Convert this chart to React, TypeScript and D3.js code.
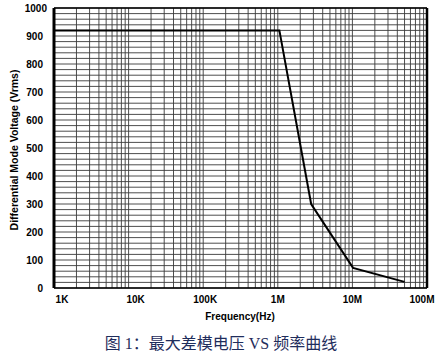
import React from "react";
import * as d3 from "d3";

const freqs = [1e3, 1.05e6, 2.8e6, 1.02e7, 5e7];
const volts = [920, 920, 300, 72, 22];
const xTickValues = [1e3, 1e4, 1e5, 1e6, 1e7, 1e8];
const xTickLabels = ["1K", "10K", "100K", "1M", "10M", "100M"];
const xTickShift = [8, 7, 2, 0, 0, -5];
const yTickValues = [0, 100, 200, 300, 400, 500, 600, 700, 800, 900, 1000];
const xTitle = "Frequency(Hz)";
const yTitle = "Differential Mode Voltage (Vrms)";
const caption = "图 1：最大差模电压 VS 频率曲线";

const W = 447;
const H = 357;
const left = 54;
const right = 427;
const top = 8;
const bottom = 288;

export default function App() {
  const x = d3.scaleLog().domain([1e3, 1e8]).range([left, right]);
  const y = d3.scaleLinear().domain([0, 1000]).range([bottom, top]);

  const vGrid: number[] = [];
  for (let e = 3; e < 8; e++) {
    for (let k = 1; k <= 9; k++) vGrid.push(k * Math.pow(10, e));
  }
  vGrid.push(1e8);
  const hGrid = d3.range(0, 1001, 20);

  const line = d3
    .line<number>()
    .x((_, i) => x(freqs[i]))
    .y((d) => y(d));

  const sans = "'Liberation Sans', Arial, sans-serif";

  return (
    <svg
      width={W}
      height={H}
      style={{ position: "absolute", left: 0, top: 0, background: "#fff" }}
    >
      <g>
        {hGrid.map((v) => (
          <line
            key={"h" + v}
            x1={left}
            x2={right}
            y1={y(v)}
            y2={y(v)}
            stroke="#3a3a3a"
            strokeWidth={0.9}
          />
        ))}
        {vGrid.map((v) => (
          <line
            key={"v" + v}
            x1={x(v)}
            x2={x(v)}
            y1={top}
            y2={bottom}
            stroke="#3a3a3a"
            strokeWidth={0.9}
          />
        ))}
      </g>
      {/* borders */}
      <line x1={left} x2={right} y1={top} y2={top} stroke="#000" strokeWidth={1.6} />
      <line x1={left} x2={right} y1={bottom} y2={bottom} stroke="#000" strokeWidth={1.4} />
      <line x1={left} x2={left} y1={top} y2={bottom} stroke="#000" strokeWidth={3} />
      <line x1={right} x2={right} y1={top} y2={bottom} stroke="#000" strokeWidth={2.5} />
      {/* data */}
      <path d={line(volts) || ""} fill="none" stroke="#000" strokeWidth={2} strokeLinejoin="miter" />
      {/* y tick labels */}
      {yTickValues.map((v) => (
        <text
          key={"yl" + v}
          x={left - 11 + (v === 1000 ? 4 : 0)}
          y={y(v)}
          dy="0.35em"
          textAnchor="end"
          fontFamily={sans}
          fontWeight="bold"
          fontSize={10}
          fill="#000"
        >
          {v}
        </text>
      ))}
      {/* x tick labels */}
      {xTickValues.map((v, i) => (
        <text
          key={"xl" + v}
          x={x(v) + xTickShift[i]}
          y={303}
          textAnchor="middle"
          fontFamily={sans}
          fontWeight="bold"
          fontSize={10}
          fill="#000"
        >
          {xTickLabels[i]}
        </text>
      ))}
      <text
        x={240}
        y={320}
        textAnchor="middle"
        fontFamily={sans}
        fontWeight="bold"
        fontSize={10}
        fill="#000"
      >
        {xTitle}
      </text>
      <text
        transform={`translate(18, 150) rotate(-90)`}
        textAnchor="middle"
        fontFamily={sans}
        fontWeight="bold"
        fontSize={10.5}
        fill="#000"
      >
        {yTitle}
      </text>
      <text
        x={221}
        y={349}
        textAnchor="middle"
        fontFamily="'Liberation Serif', 'Noto Sans CJK SC', serif"
        fontSize={16}
        fill="#1f2d5c"
      >
        {caption}
      </text>
    </svg>
  );
}
